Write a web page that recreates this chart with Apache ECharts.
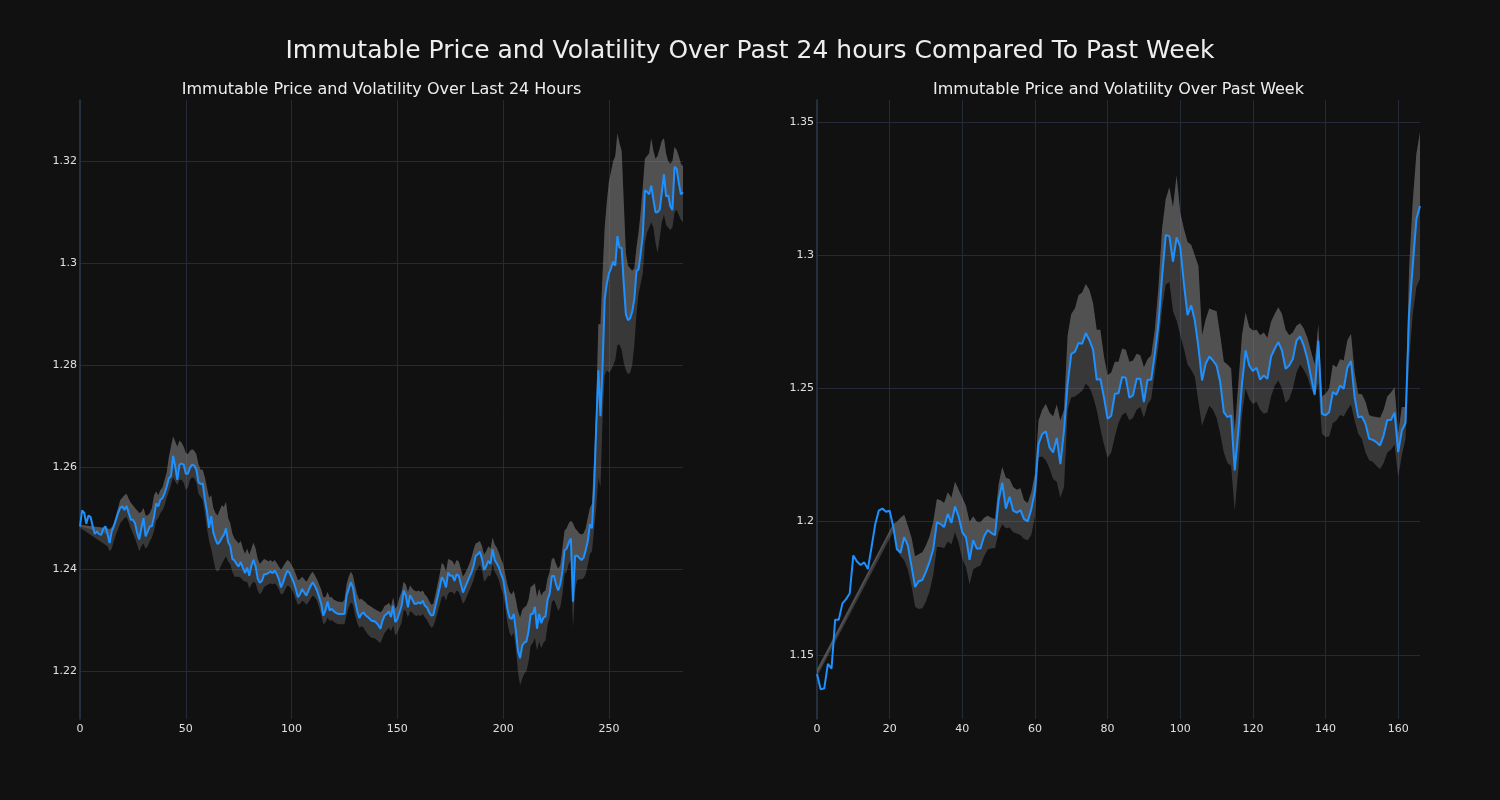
<!DOCTYPE html>
<html><head><meta charset="utf-8">
<script src="https://cdn.jsdelivr.net/npm/echarts@6/dist/echarts.min.js"></script>
<style>html,body{margin:0;padding:0;background:#111111;} #chart{width:1500px;height:800px;}</style>
</head><body><div id="chart"></div>
<script>
const mainTitle = "Immutable Price and Volatility Over Past 24 hours Compared To Past Week";
const dayTitle = "Immutable Price and Volatility Over Last 24 Hours";
const weekTitle = "Immutable Price and Volatility Over Past Week";

const dayPrice = [
1.2484,1.2515,1.2510,1.2489,1.2505,1.2502,1.2484,1.2469,1.2474,1.2469,
1.2467,1.2479,1.2484,1.2469,1.2451,1.2474,1.2484,1.2497,1.2510,1.2520,
1.2523,1.2516,1.2524,1.2510,1.2497,1.2497,1.2490,1.2471,1.2458,1.2480,
1.2500,1.2464,1.2474,1.2484,1.2484,1.2503,1.2529,1.2523,1.2536,1.2539,
1.2549,1.2562,1.2578,1.2582,1.2622,1.2601,1.2575,1.2605,1.2607,1.2605,
1.2587,1.2587,1.2599,1.2605,1.2603,1.2595,1.2570,1.2567,1.2568,1.2537,
1.2514,1.2481,1.2504,1.2472,1.2459,1.2449,1.2453,1.2461,1.2467,1.2480,
1.2453,1.2445,1.2420,1.2417,1.2410,1.2405,1.2414,1.2402,1.2392,1.2403,
1.2387,1.2406,1.2418,1.2405,1.2381,1.2373,1.2377,1.2390,1.2390,1.2392,
1.2396,1.2392,1.2397,1.2390,1.2380,1.2364,1.2374,1.2387,1.2397,1.2393,
1.2384,1.2374,1.2361,1.2345,1.2351,1.2361,1.2354,1.2348,1.2358,1.2367,
1.2374,1.2367,1.2358,1.2345,1.2332,1.2309,1.2319,1.2336,1.2319,1.2322,
1.2317,1.2314,1.2312,1.2312,1.2312,1.2312,1.2348,1.2361,1.2374,1.2364,
1.2338,1.2319,1.2304,1.2312,1.2315,1.2309,1.2306,1.2302,1.2298,1.2298,
1.2295,1.2290,1.2283,1.2299,1.2309,1.2312,1.2317,1.2306,1.2328,1.2296,
1.2302,1.2315,1.2328,1.2358,1.2348,1.2325,1.2349,1.2341,1.2332,1.2332,
1.2335,1.2332,1.2338,1.2328,1.2325,1.2315,1.2309,1.2310,1.2328,1.2345,
1.2364,1.2384,1.2377,1.2364,1.2393,1.2387,1.2387,1.2377,1.2390,1.2387,
1.2371,1.2354,1.2364,1.2374,1.2384,1.2393,1.2406,1.2426,1.2429,1.2434,
1.2420,1.2398,1.2406,1.2416,1.2410,1.2439,1.2418,1.2411,1.2403,1.2390,
1.2380,1.2354,1.2323,1.2305,1.2302,1.2312,1.2280,1.2240,1.2225,1.2250,
1.2256,1.2258,1.2278,1.2312,1.2312,1.2326,1.2283,1.2312,1.2294,1.2305,
1.2307,1.2340,1.2352,1.2386,1.2387,1.2370,1.2358,1.2370,1.2396,1.2437,
1.2440,1.2452,1.2460,1.2336,1.2426,1.2426,1.2422,1.2418,1.2422,1.2437,
1.2455,1.2488,1.2480,1.2560,1.2680,1.2790,1.2700,1.2800,1.2930,1.2960,
1.2980,1.2990,1.3003,1.2995,1.3053,1.3030,1.3030,1.2960,1.2900,1.2888,
1.2892,1.2905,1.2930,1.2984,1.2988,1.3019,1.3055,1.3143,1.3140,1.3135,
1.3152,1.3125,1.3100,1.3100,1.3105,1.3139,1.3174,1.3131,1.3133,1.3112,
1.3104,1.3189,1.3185,1.3158,1.3135,1.3139];

const dayUpper = [
1.2487,null,null,null,null,null,null,null,null,null,
null,null,null,1.2480,1.2478,1.2482,1.2490,1.2505,1.2520,1.2535,
1.2540,1.2545,1.2548,1.2538,1.2530,1.2525,1.2520,1.2515,1.2510,1.2512,
1.2520,1.2505,1.2505,1.2510,1.2520,1.2545,1.2552,1.2545,1.2555,1.2560,
1.2575,1.2590,1.2620,1.2640,1.2660,1.2650,1.2640,1.2652,1.2648,1.2640,
1.2628,1.2625,1.2632,1.2635,1.2632,1.2625,1.2605,1.2595,1.2595,1.2580,
1.2560,1.2540,1.2545,1.2520,1.2510,1.2505,1.2515,1.2525,1.2522,1.2532,
1.2500,1.2490,1.2470,1.2460,1.2455,1.2450,1.2455,1.2440,1.2430,1.2440,
1.2428,1.2440,1.2452,1.2440,1.2420,1.2410,1.2415,1.2420,1.2418,1.2415,
1.2418,1.2414,1.2418,1.2412,1.2405,1.2398,1.2405,1.2412,1.2418,1.2415,
1.2408,1.2400,1.2390,1.2378,1.2380,1.2385,1.2380,1.2375,1.2382,1.2390,
1.2395,1.2388,1.2380,1.2370,1.2360,1.2345,1.2345,1.2355,1.2345,1.2345,
1.2340,1.2338,1.2336,1.2336,1.2335,1.2340,1.2370,1.2385,1.2395,1.2388,
1.2368,1.2350,1.2340,1.2342,1.2338,1.2335,1.2330,1.2328,1.2325,1.2322,
1.2320,1.2318,1.2315,1.2320,1.2328,1.2330,1.2334,1.2326,1.2345,1.2322,
1.2328,1.2345,1.2355,1.2375,1.2370,1.2355,1.2368,1.2362,1.2358,1.2356,
1.2358,1.2355,1.2358,1.2350,1.2346,1.2338,1.2330,1.2332,1.2350,1.2370,
1.2390,1.2412,1.2408,1.2395,1.2420,1.2418,1.2416,1.2408,1.2418,1.2415,
1.2400,1.2385,1.2392,1.2400,1.2410,1.2422,1.2438,1.2450,1.2452,1.2455,
1.2445,1.2428,1.2435,1.2445,1.2440,1.2462,1.2448,1.2442,1.2432,1.2420,
1.2410,1.2390,1.2370,1.2355,1.2350,1.2358,1.2340,1.2318,1.2305,1.2320,
1.2325,1.2328,1.2340,1.2365,1.2368,1.2372,1.2345,1.2362,1.2348,1.2355,
1.2358,1.2382,1.2395,1.2420,1.2422,1.2410,1.2400,1.2408,1.2440,1.2475,
1.2480,1.2490,1.2495,1.2490,1.2480,1.2475,1.2470,1.2468,1.2470,1.2480,
1.2500,1.2520,1.2528,1.2620,1.2720,1.2880,1.2880,1.2980,1.3070,1.3120,
1.3160,1.3180,1.3200,1.3210,1.3255,1.3235,1.3220,1.3120,1.3020,1.2995,
1.2990,1.2985,1.2990,1.3030,1.3060,1.3100,1.3150,1.3205,1.3210,1.3215,
1.3245,1.3220,1.3205,1.3210,1.3225,1.3240,1.3245,1.3215,1.3200,1.3195,
1.3200,1.3228,1.3222,1.3210,1.3195,1.3190];

const dayLower = [
1.2481,null,null,null,null,null,null,null,null,null,
null,null,null,1.2445,1.2435,1.2440,1.2455,1.2468,1.2478,1.2490,
1.2495,1.2500,1.2502,1.2492,1.2480,1.2470,1.2460,1.2448,1.2435,1.2445,
1.2450,1.2440,1.2445,1.2455,1.2462,1.2475,1.2495,1.2500,1.2510,1.2515,
1.2525,1.2540,1.2552,1.2565,1.2580,1.2572,1.2565,1.2575,1.2575,1.2570,
1.2555,1.2560,1.2575,1.2580,1.2578,1.2570,1.2548,1.2542,1.2535,1.2510,
1.2480,1.2455,1.2440,1.2420,1.2400,1.2395,1.2400,1.2410,1.2418,1.2425,
1.2415,1.2410,1.2395,1.2385,1.2385,1.2385,1.2383,1.2378,1.2375,1.2375,
1.2362,1.2370,1.2375,1.2372,1.2358,1.2350,1.2355,1.2365,1.2368,1.2370,
1.2372,1.2370,1.2372,1.2368,1.2360,1.2350,1.2352,1.2360,1.2368,1.2366,
1.2360,1.2352,1.2340,1.2330,1.2332,1.2338,1.2335,1.2330,1.2335,1.2342,
1.2348,1.2345,1.2338,1.2325,1.2310,1.2292,1.2295,1.2305,1.2298,1.2300,
1.2296,1.2294,1.2292,1.2292,1.2292,1.2292,1.2310,1.2325,1.2335,1.2330,
1.2310,1.2295,1.2285,1.2288,1.2285,1.2278,1.2272,1.2268,1.2265,1.2265,
1.2262,1.2258,1.2255,1.2265,1.2275,1.2280,1.2285,1.2278,1.2290,1.2270,
1.2275,1.2285,1.2295,1.2320,1.2318,1.2305,1.2318,1.2315,1.2310,1.2308,
1.2310,1.2308,1.2312,1.2305,1.2300,1.2292,1.2285,1.2288,1.2300,1.2315,
1.2330,1.2345,1.2348,1.2338,1.2352,1.2355,1.2355,1.2350,1.2358,1.2355,
1.2345,1.2332,1.2338,1.2348,1.2358,1.2368,1.2378,1.2395,1.2402,1.2408,
1.2398,1.2375,1.2380,1.2388,1.2385,1.2410,1.2395,1.2388,1.2378,1.2362,
1.2350,1.2325,1.2295,1.2275,1.2268,1.2275,1.2245,1.2198,1.2172,1.2185,
1.2195,1.2200,1.2218,1.2250,1.2255,1.2265,1.2240,1.2258,1.2245,1.2255,
1.2260,1.2290,1.2305,1.2335,1.2340,1.2330,1.2318,1.2325,1.2350,1.2390,
1.2395,1.2410,1.2418,1.2285,1.2360,1.2378,1.2380,1.2380,1.2382,1.2390,
1.2408,1.2430,1.2435,1.2480,1.2520,1.2580,1.2560,1.2700,1.2780,1.2790,
1.2785,1.2790,1.2800,1.2810,1.2840,1.2840,1.2830,1.2805,1.2790,1.2782,
1.2785,1.2800,1.2840,1.2900,1.2940,1.2960,1.2980,1.3040,1.3060,1.3070,
1.3080,1.3070,1.3040,1.3020,1.3050,1.3080,1.3095,1.3075,1.3070,1.3065,
1.3070,1.3100,1.3105,1.3095,1.3085,1.3080];

const weekPrice = [
1.1428,1.1371,1.1374,1.1466,1.1448,1.1632,1.1632,1.1693,1.1709,1.1730,
1.1873,1.1850,1.1837,1.1847,1.1822,1.1903,1.1988,1.2041,1.2049,1.2037,
1.2041,1.1980,1.1896,1.1883,1.1942,1.1911,1.1834,1.1755,1.1776,1.1781,
1.1812,1.1850,1.1896,1.1998,1.1991,1.1980,1.2029,1.1995,1.2057,1.2018,
1.1960,1.1942,1.1857,1.1930,1.1899,1.1899,1.1945,1.1969,1.1957,1.1949,
1.2080,1.2146,1.2049,1.2093,1.2041,1.2034,1.2043,1.2009,1.2001,1.2047,
1.2116,1.2292,1.2329,1.2339,1.2279,1.2260,1.2314,1.2216,1.2342,1.2518,
1.2630,1.2637,1.2671,1.2668,1.2708,1.2681,1.2646,1.2533,1.2536,1.2467,
1.2386,1.2398,1.2480,1.2482,1.2543,1.2540,1.2465,1.2474,1.2536,1.2536,
1.2449,1.2533,1.2533,1.2630,1.2743,1.2919,1.3076,1.3072,1.2976,1.3067,
1.3032,1.2894,1.2775,1.2812,1.2756,1.2655,1.2530,1.2593,1.2620,1.2605,
1.2586,1.2524,1.2411,1.2392,1.2399,1.2192,1.2342,1.2518,1.2643,1.2586,
1.2565,1.2578,1.2533,1.2549,1.2536,1.2620,1.2649,1.2674,1.2643,1.2574,
1.2586,1.2611,1.2680,1.2695,1.2661,1.2611,1.2543,1.2477,1.2680,1.2405,
1.2399,1.2411,1.2486,1.2477,1.2511,1.2499,1.2578,1.2603,1.2467,1.2392,
1.2395,1.2367,1.2311,1.2307,1.2298,1.2286,1.2324,1.2382,1.2382,1.2409,
1.2261,1.2342,1.2370,1.2782,1.2960,1.3135,1.3185];

const weekUpper = [
1.1446,null,null,null,null,null,null,null,null,null,
null,null,null,null,null,null,null,null,null,null,
null,1.1992,1.2000,1.2015,1.2026,1.1985,1.1940,1.1870,1.1878,1.1885,
1.1910,1.1945,1.2000,1.2085,1.2080,1.2070,1.2110,1.2090,1.2150,1.2120,
1.2090,1.2060,1.2000,1.2020,1.2000,1.1998,1.2015,1.2022,1.2015,1.2010,
1.2140,1.2205,1.2165,1.2160,1.2130,1.2120,1.2125,1.2080,1.2070,1.2110,
1.2180,1.2380,1.2420,1.2442,1.2410,1.2395,1.2440,1.2380,1.2420,1.2700,
1.2780,1.2800,1.2850,1.2860,1.2892,1.2870,1.2820,1.2720,1.2720,1.2620,
1.2550,1.2560,1.2600,1.2600,1.2650,1.2645,1.2600,1.2605,1.2630,1.2625,
1.2580,1.2610,1.2625,1.2720,1.2880,1.3100,1.3210,1.3255,1.3180,1.3300,
1.3160,1.3100,1.3050,1.3040,1.3000,1.2960,1.2700,1.2760,1.2800,1.2795,
1.2790,1.2700,1.2600,1.2590,1.2575,1.2340,1.2520,1.2700,1.2785,1.2730,
1.2718,1.2720,1.2700,1.2710,1.2690,1.2750,1.2780,1.2805,1.2780,1.2720,
1.2700,1.2710,1.2735,1.2745,1.2725,1.2690,1.2640,1.2590,1.2740,1.2470,
1.2480,1.2500,1.2590,1.2580,1.2610,1.2605,1.2680,1.2705,1.2560,1.2480,
1.2478,1.2450,1.2400,1.2395,1.2393,1.2390,1.2420,1.2470,1.2485,1.2505,
1.2330,1.2430,1.2430,1.2950,1.3200,1.3380,1.3462];

const weekLower = [
1.1418,null,null,null,null,null,null,null,null,null,
null,null,null,null,null,null,null,null,null,null,
null,1.1962,1.1900,1.1870,1.1855,1.1820,1.1760,1.1680,1.1672,1.1675,
1.1700,1.1740,1.1800,1.1905,1.1905,1.1900,1.1925,1.1915,1.1960,1.1920,
1.1860,1.1830,1.1765,1.1820,1.1830,1.1835,1.1870,1.1895,1.1900,1.1900,
1.1960,1.1990,1.1975,1.1978,1.1960,1.1955,1.1950,1.1935,1.1930,1.1950,
1.2020,1.2242,1.2245,1.2230,1.2200,1.2160,1.2150,1.2090,1.2130,1.2420,
1.2467,1.2470,1.2480,1.2490,1.2518,1.2505,1.2470,1.2420,1.2350,1.2290,
1.2240,1.2260,1.2320,1.2370,1.2400,1.2410,1.2380,1.2390,1.2420,1.2430,
1.2390,1.2440,1.2460,1.2560,1.2660,1.2800,1.2890,1.2900,1.2790,1.2755,
1.2700,1.2650,1.2590,1.2570,1.2545,1.2450,1.2360,1.2400,1.2435,1.2420,
1.2390,1.2330,1.2260,1.2220,1.2210,1.2040,1.2200,1.2400,1.2500,1.2460,
1.2442,1.2450,1.2420,1.2405,1.2410,1.2470,1.2510,1.2530,1.2500,1.2445,
1.2460,1.2500,1.2560,1.2590,1.2570,1.2545,1.2500,1.2470,1.2520,1.2330,
1.2318,1.2320,1.2370,1.2380,1.2400,1.2395,1.2420,1.2440,1.2380,1.2330,
1.2310,1.2260,1.2230,1.2225,1.2210,1.2198,1.2220,1.2260,1.2270,1.2290,
1.2167,1.2250,1.2310,1.2600,1.2780,1.2880,1.2913];

const FONT = 'DejaVu Sans';
const gridColor = '#242b37';
const axisColor = '#2e3a4c';
const labelColor = '#e0e0e0';
const bandFill = 'rgba(128,128,128,0.36)';
const lineColor = '#1e90ff';

function toPairs(arr) { return arr.map(function (v, i) { return [i, v]; }); }

function bandSeries(axisIdx, price, upper, lower) {
  return {
    type: 'custom', xAxisIndex: axisIdx, yAxisIndex: axisIdx, silent: true, z: 1,
    data: [[0, price[0]]],
    renderItem: function (params, api) {
      const idx = [];
      for (let i = 0; i < upper.length; i++) {
        if (upper[i] != null && lower[i] != null) idx.push(i);
      }
      const up = idx.map(function (i) { return api.coord([i, upper[i]]); });
      const rev = idx.slice().reverse();
      const lo = rev.map(function (i) { return api.coord([i, lower[i]]); });
      const pr = rev.map(function (i) { return api.coord([i, price[i]]); });
      return {
        type: 'group', children: [
          { type: 'polygon', shape: { points: up.concat(lo) }, style: { fill: bandFill } },
          { type: 'polygon', shape: { points: up.concat(pr) }, style: { fill: bandFill } }
        ]
      };
    }
  };
}

function xAxisDef(gi, max, interval) {
  return {
    type: 'value', gridIndex: gi, min: 0, max: max, interval: interval,
    axisLine: { show: false }, axisTick: { show: false },
    axisLabel: { color: labelColor, fontFamily: FONT, fontSize: 11, margin: 5, showMaxLabel: false },
    splitLine: { show: true, showMinLine: false, showMaxLine: false, lineStyle: { color: gridColor, width: 1 } }
  };
}
function yAxisDef(gi, min, max) {
  return {
    type: 'value', gridIndex: gi, min: min, max: max, scale: true,
    axisLine: { show: true, onZero: false, lineStyle: { color: axisColor, width: 1.5 } }, axisTick: { show: false },
    axisLabel: { color: labelColor, fontFamily: FONT, fontSize: 11, margin: 3, showMinLabel: false, showMaxLabel: false },
    splitLine: { show: true, showMinLine: false, showMaxLine: false, lineStyle: { color: gridColor, width: 1 } }
  };
}

const chart = echarts.init(document.getElementById('chart'), null, { renderer: 'canvas', width: 1500, height: 800 });
chart.setOption({
  animation: false,
  backgroundColor: '#111111',
  title: [
    { text: mainTitle, left: 750, textAlign: 'center', top: 39, padding: 0, textStyle: { color: '#eeeeee', fontFamily: FONT, fontSize: 25, fontWeight: 'normal' } },
    { text: dayTitle, left: 381.5, textAlign: 'center', top: 82, padding: 0, textStyle: { color: '#eeeeee', fontFamily: FONT, fontSize: 16, fontWeight: 'normal' } },
    { text: weekTitle, left: 1118.5, textAlign: 'center', top: 82, padding: 0, textStyle: { color: '#eeeeee', fontFamily: FONT, fontSize: 16, fontWeight: 'normal' } }
  ],
  grid: [
    { left: 80, top: 100, width: 603, height: 619 },
    { left: 817, top: 100, width: 603, height: 619 }
  ],
  xAxis: [xAxisDef(0, 285, 50), xAxisDef(1, 166, 20)],
  yAxis: [yAxisDef(0, 1.2106, 1.332), yAxisDef(1, 1.1259, 1.3583)],
  series: [
    bandSeries(0, dayPrice, dayUpper, dayLower),
    { type: 'line', xAxisIndex: 0, yAxisIndex: 0, data: toPairs(dayPrice), showSymbol: false, z: 3,
      lineStyle: { color: lineColor, width: 2 }, itemStyle: { color: lineColor } },
    bandSeries(1, weekPrice, weekUpper, weekLower),
    { type: 'line', xAxisIndex: 1, yAxisIndex: 1, data: toPairs(weekPrice), showSymbol: false, z: 3,
      lineStyle: { color: lineColor, width: 2 }, itemStyle: { color: lineColor } }
  ]
});
</script></body></html>
